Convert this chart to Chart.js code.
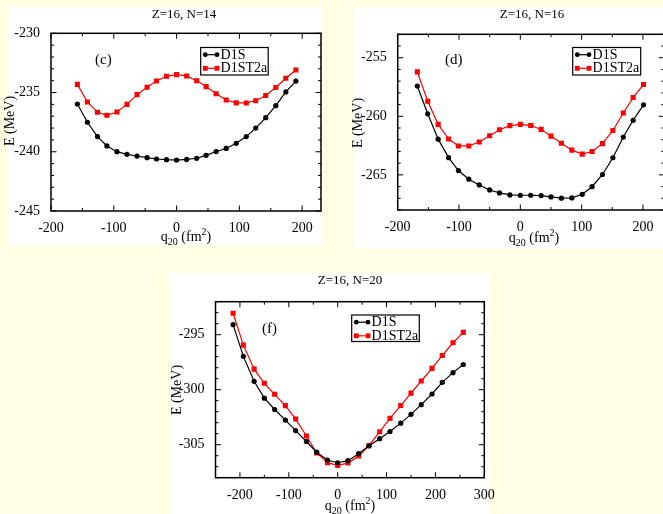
<!DOCTYPE html>
<html><head><meta charset="utf-8">
<script src="https://cdn.jsdelivr.net/npm/chart.js@4/dist/chart.umd.min.js"></script>
<style>
html,body{margin:0;padding:0;width:663px;height:514px;overflow:hidden;background:#FFFFE3;}
.panel{position:absolute;background:#fff;}
canvas{position:absolute;}
</style></head><body>
<div class="panel" style="left:7px;top:7px;width:315px;height:238px"></div>
<div class="panel" style="left:353px;top:7px;width:310px;height:241px"></div>
<div class="panel" style="left:170px;top:273px;width:320px;height:241px"></div>
<canvas id="c1" width="330" height="250" style="left:0px;top:0px;width:330px;height:250px"></canvas>
<canvas id="c2" width="340" height="250" style="left:340px;top:0px;width:340px;height:250px"></canvas>
<canvas id="c3" width="340" height="259" style="left:165px;top:255px;width:340px;height:259px"></canvas>
<script>
// ---------- data ----------
const panelTitles = ['Z=16, N=14', 'Z=16, N=16', 'Z=16, N=20'];
const panelLabels = ['(c)', '(d)', '(f)'];
const seriesNames = ['D1S', 'D1ST2a'];
const xAxisTitle = ['q', '20', ' (fm', '2', ')'];
const yAxisTitle = 'E (MeV)';

const q20_N14 = [-158,-142,-126,-111,-95,-79,-63,-47,-32,-16,0,16,32,47,63,79,95,111,126,142,158,174,190];
const d1s_N14 = [-235.97,-237.51,-238.72,-239.51,-239.99,-240.22,-240.36,-240.50,-240.61,-240.67,-240.70,-240.65,-240.55,-240.30,-239.98,-239.72,-239.29,-238.72,-238.00,-237.12,-236.11,-234.95,-234.03];
const d1st2a_N14 = [-234.31,-235.80,-236.67,-236.92,-236.64,-236.00,-235.18,-234.56,-234.02,-233.63,-233.49,-233.60,-234.00,-234.50,-235.10,-235.63,-235.87,-235.88,-235.69,-235.25,-234.58,-233.80,-233.10];
const xTicks_N14 = [-200,-100,0,100,200];
const yTicks_N14 = [-245,-240,-235,-230];

const q20_N16 = [-168,-151,-134,-117,-101,-84,-67,-50,-34,-17,0,17,34,50,67,84,101,117,134,151,168,184,201];
const d1s_N16 = [-257.42,-259.79,-261.95,-263.53,-264.63,-265.37,-265.86,-266.29,-266.54,-266.71,-266.74,-266.74,-266.77,-266.88,-266.99,-266.97,-266.66,-266.01,-264.97,-263.54,-261.77,-260.34,-259.02];
const d1st2a_N16 = [-256.21,-258.71,-260.69,-261.94,-262.53,-262.53,-262.19,-261.66,-261.15,-260.80,-260.69,-260.79,-261.12,-261.69,-262.30,-262.89,-263.23,-263.01,-262.33,-261.21,-259.72,-258.40,-257.28];
const xTicks_N16 = [-200,-100,0,100,200];
const yTicks_N16 = [-265,-260,-255];

const q20_N20 = [-214,-193,-171,-150,-129,-107,-86,-64,-43,-21,0,21,43,64,86,107,129,150,171,193,214,236,257];
const d1s_N20 = [-294.08,-296.97,-299.24,-300.77,-301.80,-302.76,-303.72,-304.71,-305.68,-306.39,-306.64,-306.45,-305.82,-305.10,-304.45,-303.80,-303.04,-302.24,-301.36,-300.39,-299.33,-298.45,-297.71];
const d1st2a_N20 = [-293.05,-295.95,-298.13,-299.42,-300.42,-301.45,-302.67,-304.21,-305.75,-306.63,-306.88,-306.67,-306.02,-305.09,-303.82,-302.61,-301.44,-300.31,-299.21,-298.06,-296.89,-295.73,-294.79];
const xTicks_N20 = [-200,-100,0,100,200,300];
const yTicks_N20 = [-305,-300,-295];

// ---------- drawing ----------
const SERIF = '"Liberation Serif", "Times New Roman", serif';
Chart.defaults.color = '#000';
Chart.defaults.font.family = SERIF;

function drawMarker(ctx, style, color, x, y) {
  ctx.fillStyle = color;
  if (style === 'rect') { ctx.fillRect(x - 2.4, y - 2.4, 4.8, 4.8); }
  else { ctx.beginPath(); ctx.arc(x, y, 2.4, 0, Math.PI * 2); ctx.fill(); }
}

function makePanel(o) {
  const decor = {
    id: 'decor',
    afterDraw(chart) {
      const ctx = chart.ctx, ca = chart.chartArea, xs = chart.scales.x, ys = chart.scales.y;
      const ox = o.left, oy = o.top;
      ctx.save();
      // inward ticks on all four sides
      ctx.strokeStyle = '#000'; ctx.lineWidth = 1;
      ctx.beginPath();
      for (let v = Math.ceil(xs.min / 50) * 50; v <= xs.max + 1e-9; v += 50) {
        const px = xs.getPixelForValue(v);
        const len = (Math.abs(v % 100) < 1e-9) ? 5.5 : 3;
        ctx.moveTo(px, ca.bottom); ctx.lineTo(px, ca.bottom - len);
        ctx.moveTo(px, ca.top); ctx.lineTo(px, ca.top + len);
      }
      for (let v = Math.ceil(ys.min); v <= ys.max + 1e-9; v += 1) {
        const py = ys.getPixelForValue(v);
        const len = (Math.abs(v % 5) < 1e-9) ? 5.5 : 3;
        ctx.moveTo(ca.left, py); ctx.lineTo(ca.left + len, py);
        ctx.moveTo(ca.right, py); ctx.lineTo(ca.right - len, py);
      }
      ctx.stroke();
      ctx.lineWidth = 1.5;
      ctx.strokeRect(ca.left, ca.top, ca.right - ca.left, ca.bottom - ca.top);

      ctx.fillStyle = '#000';
      // panel title
      ctx.font = '13px ' + SERIF; ctx.textAlign = 'center'; ctx.textBaseline = 'alphabetic';
      ctx.fillText(o.title, o.titleX - ox, o.titleY - oy);
      // panel label
      ctx.font = '15px ' + SERIF; ctx.textAlign = 'left';
      ctx.fillText(o.label, o.labelX - ox, o.labelY - oy);
      // y title
      ctx.save();
      ctx.translate(o.yTitleX - ox, o.yTitleY - oy); ctx.rotate(-Math.PI / 2);
      ctx.font = '14px ' + SERIF; ctx.textAlign = 'center'; ctx.textBaseline = 'middle';
      ctx.fillText(yAxisTitle, 0, 0);
      ctx.restore();
      // x title with sub/superscript
      const parts = [[xAxisTitle[0], 14, 0], [xAxisTitle[1], 10, 4], [xAxisTitle[2], 14, 0], [xAxisTitle[3], 10, -6], [xAxisTitle[4], 14, 0]];
      let tw = 0;
      parts.forEach(p => { ctx.font = p[1] + 'px ' + SERIF; tw += ctx.measureText(p[0]).width; });
      let cx = o.xTitleX - ox - tw / 2;
      ctx.textAlign = 'left'; ctx.textBaseline = 'alphabetic';
      parts.forEach(p => { ctx.font = p[1] + 'px ' + SERIF; ctx.fillText(p[0], cx, ca.bottom + o.xTitleDy + p[2]); cx += ctx.measureText(p[0]).width; });
      // legend
      const lb = o.legend;
      const bx = lb.x - ox, by = lb.y - oy;
      ctx.strokeStyle = '#000'; ctx.lineWidth = 1.2;
      ctx.strokeRect(bx, by, lb.w, lb.h);
      chart.data.datasets.forEach((ds, i) => {
        const yy = by + 7.2 + i * 13.6;
        const xa = bx + 4.6, xb = xa + 11.7;
        ctx.strokeStyle = ds.borderColor; ctx.lineWidth = 1.2;
        ctx.beginPath(); ctx.moveTo(xa, yy); ctx.lineTo(xb, yy); ctx.stroke();
        drawMarker(ctx, ds.pointStyle, ds.borderColor, xa, yy);
        drawMarker(ctx, ds.pointStyle, ds.borderColor, xb, yy);
        ctx.fillStyle = '#000'; ctx.font = '14px ' + SERIF; ctx.textAlign = 'left'; ctx.textBaseline = 'middle';
        ctx.fillText(ds.label, xb + 3.6, yy + 0.5);
      });
      ctx.restore();
    }
  };
  const tickFont = { family: SERIF, size: 14 };
  return new Chart(document.getElementById(o.id), {
    type: 'scatter',
    data: {
      datasets: [
        { label: seriesNames[0], data: o.q.map((x, i) => ({ x: x, y: o.a[i] })), showLine: true,
          borderColor: '#000000', backgroundColor: '#000000', borderWidth: 1.2,
          pointStyle: 'circle', pointRadius: 2.6, pointBorderWidth: 0, tension: 0 },
        { label: seriesNames[1], data: o.q.map((x, i) => ({ x: x, y: o.b[i] })), showLine: true,
          borderColor: '#ff0000', backgroundColor: '#ff0000', borderWidth: 1.2,
          pointStyle: 'rect', pointRadius: 3.6, pointBorderWidth: 0, tension: 0 }
      ]
    },
    options: {
      responsive: false, animation: false, devicePixelRatio: 1,
      layout: { padding: { left: 0, top: o.padTop, right: o.padRight, bottom: 0 } },
      plugins: { legend: { display: false }, tooltip: { enabled: false } },
      scales: {
        x: { type: 'linear', position: 'bottom', min: o.xMin, max: o.xMax,
          afterBuildTicks: s => { s.ticks = o.xt.map(v => ({ value: v })); },
          afterFit: s => { s.height = o.xH; },
          grid: { display: false }, border: { display: false },
          ticks: { padding: 1, font: tickFont, color: '#000', maxRotation: 0, autoSkip: false, callback: v => String(v) } },
        y: { type: 'linear', position: 'left', min: o.yMin, max: o.yMax,
          afterBuildTicks: s => { s.ticks = o.yt.map(v => ({ value: v })); },
          afterFit: s => { s.width = o.yW; },
          grid: { display: false }, border: { display: false },
          ticks: { padding: 3, font: tickFont, color: '#000', autoSkip: false, callback: v => String(v) } }
      }
    },
    plugins: [decor]
  });
}

makePanel({ id: 'c1', left: 0, top: 0, q: q20_N14, a: d1s_N14, b: d1st2a_N14, xt: xTicks_N14, yt: yTicks_N14,
  xMin: -200, xMax: 230, yMin: -245, yMax: -230, yW: 51, xH: 39, padTop: 33.3, padRight: 9,
  title: panelTitles[0], titleX: 184, titleY: 18.3, label: panelLabels[0], labelX: 95, labelY: 63.5,
  yTitleX: 10.5, yTitleY: 121, xTitleX: 186, xTitleDy: 30, legend: { x: 200.7, y: 47.5, w: 67.5, h: 27.5 } });

makePanel({ id: 'c2', left: 340, top: 0, q: q20_N16, a: d1s_N16, b: d1st2a_N16, xt: xTicks_N16, yt: yTicks_N16,
  xMin: -200, xMax: 235, yMin: -268, yMax: -253, yW: 57.7, xH: 40, padTop: 34.3, padRight: 15.6,
  title: panelTitles[1], titleX: 532, titleY: 18.3, label: panelLabels[1], labelX: 445, labelY: 63.5,
  yTitleX: 358.5, yTitleY: 123, xTitleX: 534, xTitleDy: 32, legend: { x: 572.7, y: 47.5, w: 68, h: 27.5 } });

makePanel({ id: 'c3', left: 165, top: 255, q: q20_N20, a: d1s_N20, b: d1st2a_N20, xt: xTicks_N20, yt: yTicks_N20,
  xMin: -250, xMax: 300, yMin: -308, yMax: -292, yW: 50.5, xH: 36.3, padTop: 46.7, padRight: 20.7,
  title: panelTitles[2], titleX: 350, titleY: 284.3, label: panelLabels[2], labelX: 262, labelY: 332.5,
  yTitleX: 177.5, yTitleY: 390, xTitleX: 350, xTitleDy: 32, legend: { x: 351.7, y: 315, w: 67.6, h: 26.5 } });
</script>
</body></html>
